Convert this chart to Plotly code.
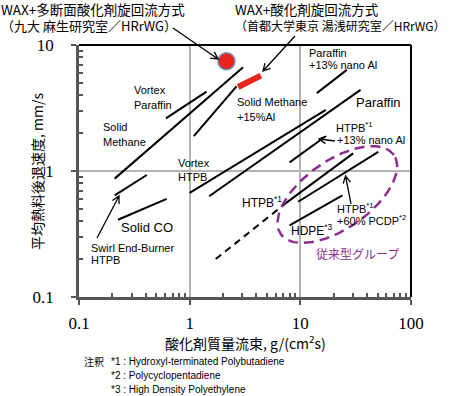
import numpy as np
import plotly.graph_objects as go

# ---------------- data ----------------
swirl_x = [0.21, 0.41];   swirl_y = [0.64, 0.93]
solidco_x = [0.225, 0.62]; solidco_y = [0.41, 0.60]
solidch4_x = [0.21, 3.04]; solidch4_y = [0.87, 6.65]
vparaffin_x = [0.61, 1.42]; vparaffin_y = [2.62, 4.26]
ch4al_x = [1.09, 2.65]; ch4al_y = [1.89, 4.70]
vhtpb_x = [1.0, 17.0]; vhtpb_y = [0.67, 3.06]
paraffin_x = [1.5, 35.0]; paraffin_y = [0.63, 4.4]
paral_x = [14.1, 26.3]; paral_y = [4.15, 6.35]
htpbal_x = [8.0, 16.7]; htpbal_y = [1.17, 1.87]
htpb_dash_x = [1.72, 7.4]; htpb_dash_y = [0.20, 0.556]
htpb_x = [7.4, 30.0]; htpb_y = [0.556, 1.38]
pcdp_x = [9.55, 50.6]; pcdp_y = [0.57, 1.42]
hdpe_x = [8.0, 24.0]; hdpe_y = [0.37, 0.64]
# WAX results (red)
wax_kyushu_x = [2.15]; wax_kyushu_y = [7.43]
wax_tmu_x = [2.74, 4.39]; wax_tmu_y = [4.64, 5.71]
# conventional group ellipse (centre in data units)
group_cx, group_cy = 21.6, 0.65

x_ticks = [0.1, 1, 10, 100]; x_ticktext = ["0.1", "1", "10", "100"]
y_ticks = [0.1, 1, 10]; y_ticktext = ["0.1", "1", "10"]

# ---------------- layout geometry ----------------
W, H = 450, 396
ML, MR, MT, MB = 79, 39, 45, 99
PW, PH = W - ML - MR, H - MT - MB


def P(px, py):
    return (px - ML) / PW, (H - MB - py) / PH


JP = "Noto Sans CJK JP"
SANS = "Liberation Sans"
SERIF = "Liberation Serif"

fig = go.Figure()


def add_line(xs, ys, width=2, color="black", dash=None):
    fig.add_trace(go.Scatter(x=xs, y=ys, mode="lines",
                             line=dict(color=color, width=width, dash=dash),
                             hoverinfo="skip", showlegend=False))


for xs, ys in [(swirl_x, swirl_y), (solidco_x, solidco_y), (solidch4_x, solidch4_y),
               (vparaffin_x, vparaffin_y), (ch4al_x, ch4al_y), (vhtpb_x, vhtpb_y),
               (paraffin_x, paraffin_y), (paral_x, paral_y), (htpbal_x, htpbal_y),
               (htpb_x, htpb_y), (pcdp_x, pcdp_y), (hdpe_x, hdpe_y)]:
    add_line(xs, ys)
add_line(htpb_dash_x, htpb_dash_y, dash="7px,5px")

# ellipse for the conventional group
a_px, b_px, th = 69, 34, np.deg2rad(35)
t = np.linspace(0, 2 * np.pi, 200)
dx = a_px * np.cos(t) * np.cos(th) - b_px * np.sin(t) * np.sin(th)
dy = a_px * np.cos(t) * np.sin(th) + b_px * np.sin(t) * np.cos(th)
ex = 10 ** (np.log10(group_cx) + dx / (PW / 3))
ey = 10 ** (np.log10(group_cy) + dy / (PH / 2))
add_line(list(ex), list(ey), width=2.5, color="#8e2d8e", dash="10px,6px")

# WAX red marks
add_line(wax_tmu_x, wax_tmu_y, width=6, color="#e8241c")
fig.add_trace(go.Scatter(x=wax_kyushu_x, y=wax_kyushu_y, mode="markers",
                         marker=dict(size=17, color="#e8241c",
                                     line=dict(color="#6f8fc8", width=1.5)),
                         hoverinfo="skip", showlegend=False))

# ---------------- text ----------------
ann = []


def text(s, px, py, size=11, font=SANS, color="black", xanchor="left"):
    x, y = P(px, py)
    ann.append(dict(text=s, x=x, y=y, xref="paper", yref="paper", showarrow=False,
                    xanchor=xanchor, yanchor="middle", borderpad=0, align="left",
                    font=dict(family=font + ", " + JP, size=size, color=color)))


text("Vortex", 133, 90); text("Paraffin", 133, 105)
text("Solid", 102, 127); text("Methane", 102, 142)
text("Vortex", 177, 163); text("HTPB", 177, 177)
text("Solid Methane", 236, 102); text("+15%Al", 236, 117)
text("Paraffin", 308, 53); text("+13% nano Al", 308, 65)
text("Paraffin", 355, 102, size=13)
text("HTPB<sup>*1</sup>", 335, 127); text("+13% nano Al", 336, 140)
text("Solid CO", 120, 227, size=13)
text("Swirl End-Burner", 90, 248); text("HTPB", 90, 260)
text("HTPB<sup>*1</sup>", 241, 202, size=12)
text("HTPB<sup>*1</sup>", 336, 208); text("+60% PCDP<sup>*2</sup>", 336, 220)
text("HDPE<sup>*3</sup>", 290, 230, size=12)
text("従来型グループ", 315, 253, size=12, font=JP, color="#8e2d8e")

text("<span style='font-size:13.5px'>WAX+多断面酸化剤旋回流方式</span><br>"
     "<span style='font-size:13px'>（九大 麻生研究室／HRrWG）</span>",
     0, 17, size=12.5, font=JP)
text("<span style='font-size:13.5px'>WAX+酸化剤旋回流方式</span><br>"
     "<span style='font-size:12px'>（首都大学東京 湯浅研究室／HRrWG）</span>",
     234, 17, size=12.5, font=JP)

text("注釈", 83, 361, size=10, font=JP)
text("*1 : Hydroxyl-terminated Polybutadiene", 110, 361, size=10)
text("*2 : Polycyclopentadiene", 110, 375, size=10)
text("*3 : High Density Polyethylene", 110, 389, size=10)

# axis titles
x, y = P(245, 342)
ann.append(dict(text="酸化剤質量流束, g/(cm<sup>2</sup>s)", x=x, y=y, xref="paper", yref="paper",
                showarrow=False, xanchor="center", yanchor="middle",
                font=dict(family=JP, size=14, color="black")))
x, y = P(37, 172)
ann.append(dict(text="平均熱料後退速度, mm/s", x=x, y=y, xref="paper", yref="paper",
                showarrow=False, xanchor="center", yanchor="middle", textangle=-90,
                font=dict(family=JP, size=14, color="black")))

# ---------------- arrows (open chevron heads) ----------------
shapes = []


def arrow(tail, tip, head=8, ang=28):
    ux, uy = tail[0] - tip[0], tail[1] - tip[1]
    n = np.hypot(ux, uy); ux, uy = ux / n, uy / n
    pts = []
    for s in (1, -1):
        a = np.deg2rad(ang) * s
        wx = tip[0] + head * (ux * np.cos(a) - uy * np.sin(a))
        wy = tip[1] + head * (ux * np.sin(a) + uy * np.cos(a))
        pts.append((wx, wy))
    q = lambda p: "%.5f %.5f" % P(*p)
    path = "M %s L %s M %s L %s L %s" % (q(tail), q(tip), q(pts[0]), q(tip), q(pts[1]))
    shapes.append(dict(type="path", path=path, xref="paper", yref="paper",
                       line=dict(color="black", width=1.3)))


arrow((173, 28), (218, 59))
arrow((295, 36), (263, 71))
arrow((97, 238), (119, 196))
arrow((335, 141), (319, 139))
arrow((351, 204), (345.5, 176))

# top / right frame lines
shapes.append(dict(type="line", xref="paper", yref="paper", x0=0, x1=1, y0=1, y1=1,
                   line=dict(color="black", width=2)))
shapes.append(dict(type="line", xref="paper", yref="paper", x0=1, x1=1, y0=0, y1=1,
                   line=dict(color="black", width=2)))

minor_x = [m * 10.0 ** e for e in (-1, 0, 1) for m in range(2, 10)]
minor_y = [m * 10.0 ** e for e in (-1, 0) for m in range(2, 10)]

axis_common = dict(type="log", showline=True, linecolor="#555555", linewidth=2.5,
                   ticks="outside", ticklen=5, tickcolor="#555555", tickwidth=1.5,
                   showgrid=True, gridcolor="#b4b4b4", gridwidth=1.5, zeroline=False,
                   automargin=False,
                   tickfont=dict(family=SERIF, size=17, color="black"))

fig.update_layout(
    width=W, height=H, margin=dict(l=ML, r=MR, t=MT, b=MB, autoexpand=False),
    paper_bgcolor="white", plot_bgcolor="white",
    xaxis=dict(range=[-1, 2], tickvals=x_ticks, ticktext=x_ticktext,
               ticklabelstandoff=4,
               minor=dict(tickvals=minor_x, ticks="inside", ticklen=4,
                          tickcolor="#555555", showgrid=False),
               **axis_common),
    yaxis=dict(range=[-1, 1], tickvals=y_ticks, ticktext=y_ticktext,
               ticklabelstandoff=14,
               minor=dict(tickvals=minor_y, ticks="inside", ticklen=4,
                          tickcolor="#555555", showgrid=False),
               **axis_common),
    annotations=ann, shapes=shapes, showlegend=False,
)

fig.write_html("out.html", config=dict(displayModeBar=False),
               post_script="document.body.style.margin='0';document.body.style.overflow='hidden';")
